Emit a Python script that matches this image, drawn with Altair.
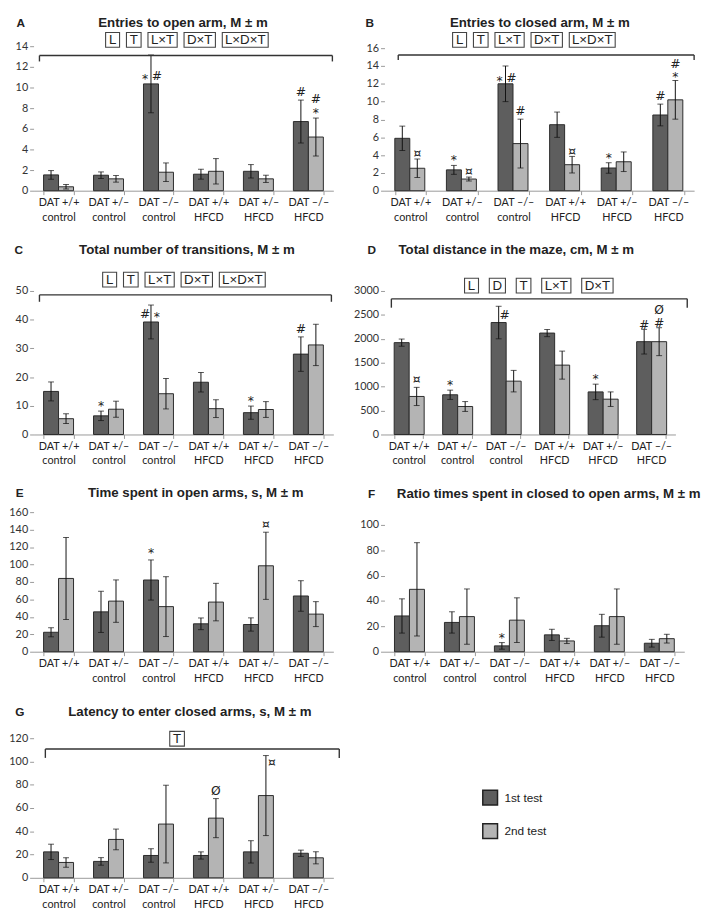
import altair as alt
import pandas as pd

# ---------------- data ----------------
GROUPS = ["DAT +/+|control", "DAT +/–|control", "DAT –/–|control",
          "DAT +/+|HFCD", "DAT +/–|HFCD", "DAT –/–|HFCD"]
TESTS = ["1st test", "2nd test"]

A_m1 = [1.53, 1.50, 10.35, 1.60, 1.88, 6.70]
A_e1 = [0.42, 0.32, 2.80, 0.48, 0.65, 2.08]
A_m2 = [0.38, 1.15, 1.79, 1.88, 1.15, 5.20]
A_e2 = [0.22, 0.32, 0.90, 1.23, 0.35, 1.84]

B_m1 = [5.88, 2.34, 12.00, 7.41, 2.55, 8.50]
B_e1 = [1.37, 0.50, 2.00, 1.42, 0.59, 1.22]
B_m2 = [2.52, 1.31, 5.29, 2.92, 3.25, 10.20]
B_e2 = [1.04, 0.22, 2.74, 0.93, 1.10, 2.17]

C_m1 = [15.0, 6.5, 39.2, 18.2, 7.6, 28.0]
C_e1 = [3.3, 1.65, 5.9, 3.4, 2.3, 6.0]
C_m2 = [5.5, 8.8, 14.2, 9.0, 8.7, 31.2]
C_e2 = [1.7, 2.8, 5.3, 3.1, 2.75, 7.2]

D_m1 = [1920, 830, 2340, 2120, 890, 1940]
D_e1 = [75, 97, 340, 75, 162, 258]
D_m2 = [795, 585, 1115, 1450, 738, 1940]
D_e2 = [190, 103, 225, 293, 152, 292]

E_m1 = [22.3, 45.7, 82.2, 32.0, 31.2, 63.9]
E_e1 = [5.2, 23.6, 23.0, 6.7, 7.6, 17.5]
E_m2 = [84.0, 58.0, 51.7, 56.9, 98.5, 43.1]
E_e2 = [47.0, 24.3, 34.3, 21.5, 38.5, 14.3]

F_m1 = [28.2, 23.1, 4.6, 13.3, 20.5, 6.7]
F_e1 = [13.5, 8.4, 2.6, 4.4, 9.0, 3.05]
F_m2 = [49.2, 27.7, 24.9, 8.5, 27.7, 10.3]
F_e2 = [36.8, 21.8, 17.6, 2.05, 21.8, 3.45]

G_m1 = [22.3, 14.1, 19.2, 19.2, 22.3, 21.1]
G_e1 = [6.6, 3.25, 5.8, 3.1, 9.6, 2.7]
G_m2 = [13.2, 33.0, 46.2, 51.3, 70.7, 17.2]
G_e2 = [4.1, 8.9, 33.4, 16.8, 34.4, 5.2]

# significance marks: (group, test, text, side, level, anchor)
A_marks = [(2, 0, "*", -1, 0, "mean"), (2, 0, "#", 1, 0, "mean"),
           (5, 0, "#", 0, 0, "top"), (5, 1, "*", 0, 0, "top"), (5, 1, "#", 0, 1, "top")]
B_marks = [(0, 1, "¤", 0, -0.2, "top"), (1, 0, "*", 0, 0, "top"), (1, 1, "¤", 0, -0.2, "top"),
           (2, 0, "*", -1, -0.2, "mean"), (2, 0, "#", 1, -0.2, "mean"), (2, 1, "#", 0, 0, "top"),
           (3, 1, "¤", 0, -0.2, "top"), (4, 0, "*", 0, 0, "top"), (5, 0, "#", 0, 0, "top"),
           (5, 1, "*", 0, -0.1, "top"), (5, 1, "#", 0, 0.8, "top")]
C_marks = [(1, 0, "*", 0, 0, "top"), (2, 0, "#", -1, 0, "mean"), (2, 0, "*", 1, 0, "mean"),
           (4, 0, "*", 0, 0, "top"), (5, 0, "#", 0, 0, "top")]
D_marks = [(0, 1, "¤", 0, 0, "top"), (1, 0, "*", 0, 0, "top"), (2, 0, "#", 1, -1.5, "top"),
           (4, 0, "*", 0, 0, "top"), (5, 0, "#", 0, -0.3, "top"), (5, 1, "#", 0, -0.3, "top"),
           (5, 1, "Ø", 0, 0.9, "top")]
E_marks = [(2, 0, "*", 0, 0.15, "top"), (4, 1, "¤", 0, 0, "top")]
F_marks = [(2, 0, "*", 0, 0, "top")]
G_marks = [(3, 1, "Ø", 0, 0, "top"), (4, 1, "¤", 1, -1.33, "top")]

A_boxes = ["L", "T", "L×T", "D×T", "L×D×T"]
B_boxes = ["L", "T", "L×T", "D×T", "L×D×T"]
C_boxes = ["L", "T", "L×T", "D×T", "L×D×T"]
D_boxes = ["L", "D", "T", "L×T", "D×T"]
G_boxes = ["T"]

# ---------------- layout / style ----------------
DARK, LIGHT, EDGE = "#5e5e5e", "#b4b4b4", "#2b2b2b"
ROW_SP, COL_SP = 42, 52
ROW_BOTTOMS = [185, 433, 654, 884]
ROWS = []
_prev = None
for _b in ROW_BOTTOMS:
    _t = 8 if _prev is None else _prev + ROW_SP
    ROWS.append((_t, _b))
    _prev = _b
TFONT = "Liberation Sans"
LFONT = "Lato"
SFONT = "DejaVu Sans"
DUMMY = pd.DataFrame({"k": [0]})
CHARW = {"L": 7.2, "T": 7.9, "D": 9.4, "×": 7.6}

LEGEND = alt.Legend(title=None, orient="none", legendX=456, legendY=786,
                    symbolType="square", symbolSize=225, symbolStrokeColor="#222",
                    symbolStrokeWidth=1.5, symbolOpacity=1, labelFont=TFONT,
                    labelFontSize=12, labelColor="#222", rowPadding=13,
                    labelOffset=6, padding=0)


def decor_text(txt, x, y, **kw):
    return alt.Chart(DUMMY).mark_text(text=txt, **kw).encode(
        x=alt.value(x), y=alt.value(y))


def panel(cfg):
    m1, e1, m2, e2 = cfg["data"]
    W = cfg["W"]
    st, sb = ROWS[cfg["row"]]
    H = sb - st
    off = cfg["axis_top"] - st
    dom_top = cfg["ymax"] * H / (H - off)
    upp = dom_top / H

    rows = []
    for i, g in enumerate(GROUPS):
        for t, (m, e) in enumerate([(m1[i], e1[i]), (m2[i], e2[i])]):
            rows.append(dict(group=g, test=TESTS[t], mean=m, lo=max(m - e, 0), hi=m + e))
    df = pd.DataFrame(rows)

    label_expr = "split(datum.label, '|')"
    if cfg.get("first_one_line"):
        label_expr = "datum.label == 'DAT +/+|control' ? ['DAT +/+'] : split(datum.label, '|')"
    xaxis = alt.Axis(title=None, labelExpr=label_expr, labelAngle=0, tickBand="extent",
                     tickSize=4, tickColor="#999", domainColor="#999", labelFont=LFONT,
                     labelFontSize=11, labelColor="#222", labelLineHeight=15,
                     labelPadding=2)
    yaxis = alt.Axis(title=None, values=list(range(0, cfg["ymax"] + 1, cfg["step"])),
                     format="d", grid=False, domain=False, tickSize=4, tickColor="#999",
                     labelFont=LFONT, labelFontSize=11, labelColor="#333", labelPadding=2)
    X = alt.X("group:N", sort=GROUPS, axis=xaxis,
              scale=alt.Scale(paddingInner=0.4, paddingOuter=0.2))
    XO = alt.XOffset("test:N", sort=TESTS, scale=alt.Scale(paddingInner=0, paddingOuter=0))
    ysc = alt.Scale(domain=[0, dom_top], nice=False, zero=True)

    base = alt.Chart(df)
    bars = base.mark_bar(stroke=EDGE, strokeWidth=1).encode(
        x=X, xOffset=XO, y=alt.Y("mean:Q", scale=ysc, axis=yaxis),
        color=alt.Color("test:N", sort=TESTS,
                        scale=alt.Scale(domain=TESTS, range=[DARK, LIGHT]), legend=LEGEND))
    err = base.mark_rule(color="#111", strokeWidth=1).encode(
        x=X, xOffset=XO, y=alt.Y("lo:Q", scale=ysc, axis=yaxis), y2="hi:Q")
    cap_lo = base.mark_tick(color="#111", size=6, thickness=1).encode(
        x=X, xOffset=XO, y=alt.Y("lo:Q", scale=ysc, axis=yaxis))
    cap_hi = base.mark_tick(color="#111", size=6, thickness=1).encode(
        x=X, xOffset=XO, y=alt.Y("hi:Q", scale=ysc, axis=yaxis))
    layers = [bars, err, cap_lo, cap_hi]

    # significance symbols
    arows = []
    for (g, t, txt, side, lev, anc) in cfg["marks"]:
        m = [m1, m2][t][g]
        e = [e1, e2][t][g]
        basev = m + e if anc == "top" else m
        up = 8 + 11 * lev - (3 if txt == "*" else 0)
        arows.append(dict(group=GROUPS[g], test=TESTS[t], txt=txt, side=side,
                          yv=basev + up * upp))
    adf = pd.DataFrame(arows)
    for side in (-1, 0, 1):
        sub = adf[adf["side"] == side]
        if len(sub):
            layers.append(alt.Chart(sub).mark_text(
                font=SFONT, fontSize=12.5, color="#222", baseline="middle",
                dx=side * 6).encode(
                x=X, xOffset=XO, y=alt.Y("yv:Q", scale=ysc, axis=yaxis), text="txt:N"))

    # title & letter
    layers.append(decor_text(cfg["title"], cfg["title_x"], cfg["title_y"] - st,
                             font=TFONT, fontSize=13.5, fontWeight="bold", color="#222",
                             align="center", baseline="middle"))
    layers.append(decor_text(cfg["letter"], cfg["letter_x"], cfg["title_y"] - st,
                             font=TFONT, fontSize=12, fontWeight="bold", color="#222",
                             align="center", baseline="middle"))

    # bracket and factor boxes
    if cfg.get("boxes"):
        bx0, bx1 = cfg["br_x"]
        by, bd = cfg["br_y"] - st, cfg["br_drop"]
        for enc in [dict(x=alt.value(bx0), x2=alt.value(bx1), y=alt.value(by)),
                    dict(x=alt.value(bx0), y=alt.value(by), y2=alt.value(by + bd)),
                    dict(x=alt.value(bx1), y=alt.value(by), y2=alt.value(by + bd))]:
            layers.append(alt.Chart(DUMMY).mark_rule(color="#333", strokeWidth=1.4).encode(**enc))
        widths = [sum(CHARW.get(c, 8) for c in b) + 7 for b in cfg["boxes"]]
        gap = cfg["box_gap"]
        total = sum(widths) + gap * (len(widths) - 1)
        x = cfg["box_cx"] - total / 2
        cy = cfg["box_y"] - st
        for b, w in zip(cfg["boxes"], widths):
            layers.append(alt.Chart(DUMMY).mark_rect(fill="white", stroke="#444", strokeWidth=1.1).encode(
                x=alt.value(x), x2=alt.value(x + w), y=alt.value(cy - 7.5), y2=alt.value(cy + 7.5)))
            layers.append(decor_text(b, x + w / 2, cy + 0.5, font=TFONT, fontSize=13.5,
                                     color="#222", align="center", baseline="middle"))
            x += w + gap

    return alt.layer(*layers).properties(width=W, height=H)


CFG = [
    dict(data=(A_m1, A_e1, A_m2, A_e2), marks=A_marks, boxes=A_boxes, row=0, axis_top=38,
         ymax=14, step=2, W=305, title="Entries to open arm, M ± m", letter="A",
         title_x=152, title_y=14, letter_x=-13, br_x=(6, 304), br_y=47.5, br_drop=6,
         box_y=31.5, box_cx=156, box_gap=7),
    dict(data=(B_m1, B_e1, B_m2, B_e2), marks=B_marks, boxes=B_boxes, row=0, axis_top=40,
         ymax=16, step=2, W=315, title="Entries to closed arm, M ± m", letter="B",
         title_x=158, title_y=14, letter_x=-15, br_x=(14, 315), br_y=47, br_drop=5,
         box_y=31.5, box_cx=152, box_gap=7),
    dict(data=(C_m1, C_e1, C_m2, C_e2), marks=C_marks, boxes=C_boxes, row=1, axis_top=287,
         ymax=50, step=10, W=305, title="Total number of transitions, M ± m", letter="C",
         title_x=156, title_y=245, letter_x=-15, br_x=(6, 303), br_y=291, br_drop=7,
         box_y=275.5, box_cx=153, box_gap=7),
    dict(data=(D_m1, D_e1, D_m2, D_e2), marks=D_marks, boxes=D_boxes, row=1, axis_top=287,
         ymax=3000, step=500, W=296, title="Total distance in the maze, cm, M ± m", letter="D",
         title_x=134, title_y=245, letter_x=-13, br_x=(7, 308), br_y=295, br_drop=9,
         box_y=281.5, box_cx=157, box_gap=11),
    dict(data=(E_m1, E_e1, E_m2, E_e2), marks=E_marks, boxes=None, row=2, axis_top=512,
         ymax=160, step=20, W=305, title="Time spent in open arms, s, M ± m", letter="E",
         title_x=165, title_y=493, letter_x=-14, first_one_line=True),
    dict(data=(F_m1, F_e1, F_m2, F_e2), marks=F_marks, boxes=None, row=2, axis_top=525,
         ymax=100, step=20, W=305, title="Ratio times spent in closed to open arms, M ± m",
         letter="F", title_x=167, title_y=494, letter_x=-13),
    dict(data=(G_m1, G_e1, G_m2, G_e2), marks=G_marks, boxes=G_boxes, row=3, axis_top=742,
         ymax=120, step=20, W=305, title="Latency to enter closed arms, s, M ± m", letter="G",
         title_x=159, title_y=715, letter_x=-14, br_x=(12, 311), br_y=753, br_drop=9,
         box_y=742.5, box_cx=146, box_gap=7),
]

chart = alt.concat(*[panel(c) for c in CFG], columns=2,
                   spacing={"row": ROW_SP, "column": COL_SP},
                   bounds="flush", align="each", padding=0
                   ).configure_view(stroke=None)

chart.save("out.html", embed_options={"renderer": "svg", "actions": False})
